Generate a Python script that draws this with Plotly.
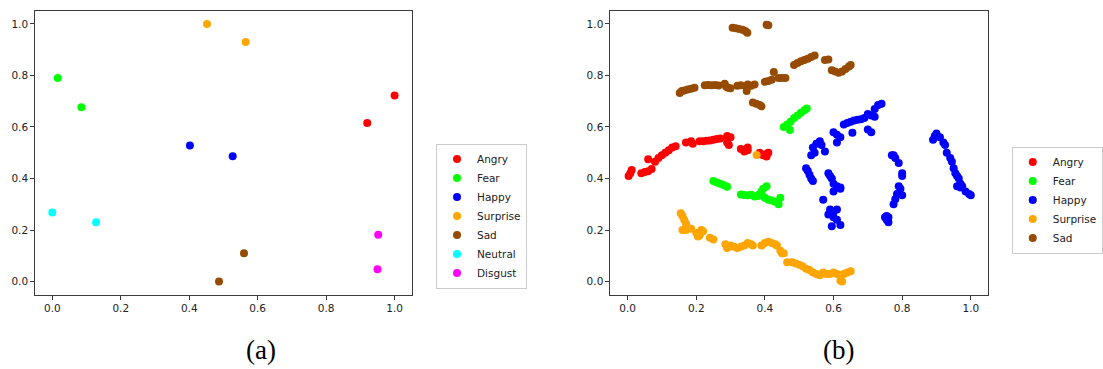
import plotly.graph_objects as go

# ---------------- data: panel (a) ----------------
a_labels = ["Angry", "Fear", "Happy", "Surprise", "Sad", "Neutral", "Disgust"]
a_angry_x = [0.92, 1.0]
a_angry_y = [0.615, 0.722]
a_fear_x = [0.016, 0.085]
a_fear_y = [0.79, 0.677]
a_happy_x = [0.402, 0.527]
a_happy_y = [0.528, 0.486]
a_surprise_x = [0.452, 0.565]
a_surprise_y = [1.0, 0.93]
a_sad_x = [0.487, 0.56]
a_sad_y = [0.0, 0.11]
a_neutral_x = [0.0, 0.128]
a_neutral_y = [0.268, 0.23]
a_disgust_x = [0.952, 0.95]
a_disgust_y = [0.182, 0.048]

# ---------------- data: panel (b) ----------------
b_angry_x = [0.003, 0.008, 0.012, 0.04, 0.05, 0.06, 0.07, 0.06, 0.08, 0.09, 0.1, 0.11, 0.12,
             0.13, 0.14, 0.17, 0.185, 0.19, 0.21, 0.22, 0.23, 0.24, 0.25, 0.26, 0.27, 0.29,
             0.3, 0.29, 0.295, 0.33, 0.34, 0.35, 0.35, 0.385, 0.395, 0.405, 0.41, 0.405]
b_angry_y = [0.41, 0.42, 0.433, 0.42, 0.425, 0.428, 0.437, 0.475, 0.465, 0.48, 0.49, 0.5, 0.51,
             0.52, 0.525, 0.54, 0.545, 0.535, 0.545, 0.545, 0.547, 0.548, 0.55, 0.553, 0.555, 0.565,
             0.56, 0.54, 0.53, 0.515, 0.505, 0.51, 0.52, 0.5, 0.49, 0.495, 0.5, 0.485]

b_fear_x = [0.455, 0.465, 0.475, 0.485, 0.495, 0.505, 0.515, 0.522, 0.473,
            0.25, 0.26, 0.27, 0.28, 0.29,
            0.33, 0.34, 0.35, 0.36, 0.37, 0.38,
            0.385, 0.39, 0.395, 0.405,
            0.4, 0.41, 0.42, 0.43, 0.44, 0.445]
b_fear_y = [0.6, 0.61, 0.62, 0.635, 0.645, 0.655, 0.665, 0.672, 0.588,
            0.39, 0.385, 0.38, 0.375, 0.368,
            0.338, 0.336, 0.335, 0.337, 0.33, 0.332,
            0.34, 0.35, 0.36, 0.37,
            0.325, 0.318, 0.315, 0.31, 0.3, 0.325]

b_happy_x = [0.72, 0.73, 0.74, 0.63, 0.64, 0.65, 0.66, 0.67, 0.68, 0.69, 0.7, 0.71, 0.72,
             0.7, 0.71, 0.655, 0.6, 0.61, 0.62, 0.61, 0.54, 0.55, 0.56, 0.545, 0.535, 0.575,
             0.89, 0.895, 0.9, 0.91, 0.92, 0.77,
             0.52, 0.525, 0.53, 0.535, 0.54, 0.565,
             0.57, 0.59, 0.6, 0.61, 0.6, 0.61, 0.62, 0.595, 0.585,
             0.585, 0.59, 0.595, 0.6, 0.61, 0.62, 0.6, 0.62,
             0.75, 0.755, 0.76, 0.76, 0.755,
             0.775, 0.78, 0.79, 0.8, 0.8, 0.79, 0.795, 0.785, 0.8, 0.78, 0.775,
             0.925, 0.93, 0.94, 0.945, 0.95, 0.955, 0.96, 0.965, 0.97, 0.975, 0.985, 0.995,
             1.0, 0.96, 0.97]
b_happy_y = [0.67, 0.685, 0.69, 0.61, 0.615, 0.62, 0.625, 0.628, 0.63, 0.635, 0.65, 0.645, 0.64,
             0.59, 0.58, 0.578, 0.58, 0.57, 0.56, 0.54, 0.52, 0.535, 0.545, 0.5, 0.49, 0.505,
             0.55, 0.565, 0.575, 0.56, 0.54, 0.49,
             0.44, 0.43, 0.415, 0.4, 0.39, 0.53,
             0.318, 0.28, 0.27, 0.28, 0.25, 0.24, 0.22, 0.215, 0.26,
             0.42, 0.41, 0.4, 0.38, 0.37, 0.365, 0.35, 0.36,
             0.25, 0.24, 0.23, 0.25, 0.255,
             0.49, 0.48, 0.46, 0.42, 0.41, 0.37, 0.36, 0.34, 0.335, 0.32, 0.3,
             0.53, 0.5, 0.48, 0.465, 0.44, 0.42, 0.41, 0.4, 0.38, 0.37, 0.35, 0.34,
             0.335, 0.37, 0.365]

b_surprise_x = [0.376,
                0.155, 0.16, 0.165, 0.17, 0.175, 0.16, 0.17, 0.185,
                0.2, 0.21, 0.215, 0.22, 0.205, 0.24, 0.25,
                0.285, 0.29, 0.3, 0.31, 0.32, 0.33, 0.34, 0.35, 0.36, 0.365,
                0.39, 0.4, 0.41, 0.42, 0.43, 0.435, 0.445, 0.45, 0.455,
                0.465, 0.48, 0.49, 0.5, 0.51, 0.52, 0.53, 0.54, 0.55, 0.56,
                0.57, 0.58, 0.59, 0.6, 0.61, 0.62, 0.63, 0.64, 0.65, 0.62, 0.625]
b_surprise_y = [0.491,
                0.265, 0.255, 0.24, 0.225, 0.21, 0.2, 0.2, 0.205,
                0.19, 0.18, 0.2, 0.195, 0.175, 0.17, 0.163,
                0.145, 0.13, 0.14, 0.135, 0.13, 0.135, 0.14, 0.15, 0.145, 0.14,
                0.14, 0.15, 0.155, 0.15, 0.145, 0.14, 0.12, 0.11, 0.11,
                0.075, 0.075, 0.07, 0.065, 0.06, 0.05, 0.045, 0.035, 0.03, 0.025,
                0.035, 0.03, 0.03, 0.035, 0.03, 0.025, 0.03, 0.035, 0.04, 0.003, 0.0]

b_sad_x = [0.306, 0.315, 0.325, 0.335, 0.343, 0.349, 0.405, 0.41,
           0.152, 0.158, 0.165, 0.175, 0.185, 0.195,
           0.225, 0.235, 0.245, 0.255, 0.265,
           0.283, 0.287, 0.292, 0.3,
           0.32, 0.33, 0.345, 0.35, 0.36, 0.37, 0.347,
           0.4, 0.41, 0.42, 0.426, 0.44, 0.45, 0.46,
           0.365, 0.375, 0.385, 0.39,
           0.485, 0.495, 0.505, 0.515, 0.525, 0.535, 0.545,
           0.575, 0.585,
           0.595, 0.605, 0.615, 0.625, 0.635, 0.645, 0.65]
b_sad_y = [0.985, 0.983, 0.98, 0.977, 0.972, 0.966, 0.997, 0.995,
           0.732, 0.74, 0.742, 0.745, 0.748, 0.752,
           0.762, 0.763, 0.762, 0.763, 0.761,
           0.768, 0.757, 0.752, 0.75,
           0.76, 0.762, 0.758, 0.765, 0.76, 0.765, 0.74,
           0.775, 0.778, 0.783, 0.813, 0.79, 0.79, 0.79,
           0.695, 0.69, 0.685, 0.68,
           0.84, 0.848, 0.855, 0.86, 0.865, 0.872, 0.877,
           0.86, 0.862,
           0.82, 0.815, 0.81, 0.815, 0.825, 0.835, 0.84]

colors = {"Angry": "#ff0000", "Fear": "#00ff00", "Happy": "#0000ff", "Surprise": "#ffa500",
          "Sad": "#964b00", "Neutral": "#00ffff", "Disgust": "#ff00ff"}

W, H = 1103, 369
FONT = "DejaVu Sans"
MS = 8

fig = go.Figure()

a_series = [("Angry", a_angry_x, a_angry_y), ("Fear", a_fear_x, a_fear_y),
            ("Happy", a_happy_x, a_happy_y), ("Surprise", a_surprise_x, a_surprise_y),
            ("Sad", a_sad_x, a_sad_y), ("Neutral", a_neutral_x, a_neutral_y),
            ("Disgust", a_disgust_x, a_disgust_y)]
for name, xs, ys in a_series:
    fig.add_trace(go.Scatter(x=xs, y=ys, mode="markers", name=name,
                             marker=dict(size=MS, color=colors[name], line=dict(width=0)),
                             xaxis="x", yaxis="y", legend="legend"))

b_series = [("Angry", b_angry_x, b_angry_y), ("Fear", b_fear_x, b_fear_y),
            ("Happy", b_happy_x, b_happy_y), ("Surprise", b_surprise_x, b_surprise_y),
            ("Sad", b_sad_x, b_sad_y)]
for name, xs, ys in b_series:
    fig.add_trace(go.Scatter(x=xs, y=ys, mode="markers", name=name,
                             marker=dict(size=MS, color=colors[name], line=dict(width=0)),
                             xaxis="x2", yaxis="y2", legend="legend2"))

ydom = [(H - 294.5) / H, (H - 11) / H]
axis_common = dict(range=[-0.05, 1.05], tick0=0, dtick=0.2, tickformat=".1f",
                   showgrid=False, zeroline=False, showline=True, mirror=True,
                   linecolor="#3a3a3a", linewidth=1, ticks="outside", ticklen=4,
                   tickcolor="#3a3a3a", tickwidth=1,
                   tickfont=dict(family=FONT, size=10.5, color="#222"))

fig.update_layout(
    width=W, height=H, autosize=False,
    margin=dict(l=0, r=0, t=0, b=0),
    paper_bgcolor="white", plot_bgcolor="white",
    xaxis=dict(domain=[35.5 / W, 415.5 / W], anchor="y", **axis_common),
    yaxis=dict(domain=ydom, anchor="x", **axis_common),
    xaxis2=dict(domain=[616 / W, 997 / W], anchor="y2", **axis_common),
    yaxis2=dict(domain=ydom, anchor="x2", **axis_common),
    legend=dict(x=440 / W, y=(H - 216) / H, xanchor="left", yanchor="middle",
                bordercolor="#cccccc", borderwidth=1, bgcolor="white",
                font=dict(family=FONT, size=10.5, color="#222"),
                tracegroupgap=0, itemwidth=30),
    legend2=dict(x=1021 / W, y=(H - 200) / H, xanchor="left", yanchor="middle",
                 bordercolor="#cccccc", borderwidth=1, bgcolor="white",
                 font=dict(family=FONT, size=10.5, color="#222"),
                 tracegroupgap=0, itemwidth=30),
    annotations=[
        dict(text="(a)", x=263 / W, y=(H - 350) / H, xref="paper", yref="paper",
             showarrow=False, xanchor="center", yanchor="middle",
             font=dict(family="Liberation Serif", size=27, color="black")),
        dict(text="(b)", x=846 / W, y=(H - 350) / H, xref="paper", yref="paper",
             showarrow=False, xanchor="center", yanchor="middle",
             font=dict(family="Liberation Serif", size=27, color="black")),
    ],
)

fig.write_html("out.html")
